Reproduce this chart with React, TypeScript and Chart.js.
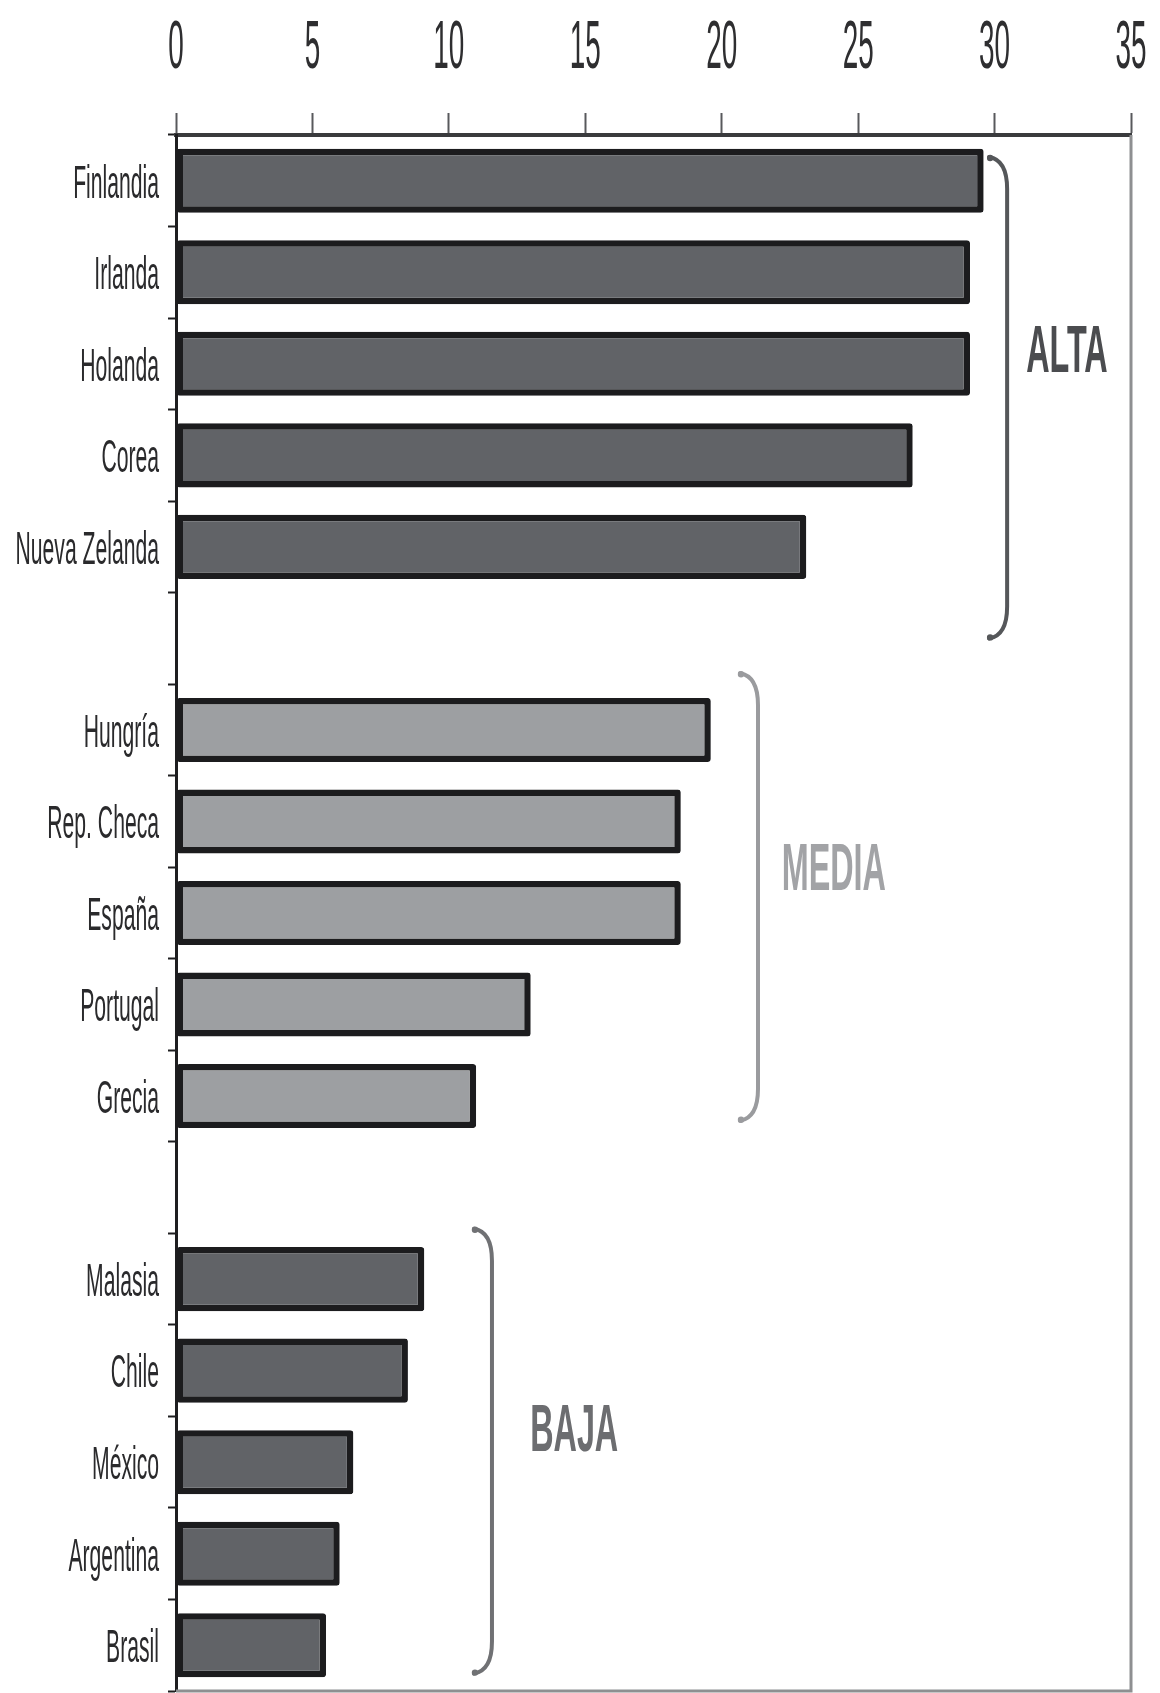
import React, { useEffect, useRef } from "react";
import { Chart, registerables } from "chart.js";

Chart.register(...registerables);

// ---------- data ----------
const altaCountries = ["Finlandia", "Irlanda", "Holanda", "Corea", "Nueva Zelanda"];
const altaValues = [29.6, 29.1, 29.1, 27.0, 23.1];
const mediaCountries = ["Hungría", "Rep. Checa", "España", "Portugal", "Grecia"];
const mediaValues = [19.6, 18.5, 18.5, 13.0, 11.0];
const bajaCountries = ["Malasia", "Chile", "México", "Argentina", "Brasil"];
const bajaValues = [9.1, 8.5, 6.5, 6.0, 5.5];
const xTickValues = [0, 5, 10, 15, 20, 25, 30, 35];
const groupNames = ["ALTA", "MEDIA", "BAJA"];

// ---------- styles ----------
const DARK_FILL = "#616367";
const LIGHT_FILL = "#9d9fa2";
const BAR_BORDER = "#1c1c1e";
const FONT = '"Liberation Sans", Arial, sans-serif';

// bracket/label placement in scale units (x value, category index)
const groupStyles = [
  { textColor: "#4b4c4f", bracketColor: "#55575a", bracketX: 30.46, from: -0.26, to: 5.0, textX: 31.16, textY: 1.83 },
  { textColor: "#a2a3a6", bracketColor: "#9a9b9e", bracketX: 21.33, from: 5.38, to: 10.27, textX: 22.2, textY: 7.49 },
  { textColor: "#6c6d70", bracketColor: "#707174", bracketX: 11.58, from: 11.45, to: 16.31, textX: 12.98, textY: 13.62 },
];

// combined categories with spacer rows between groups
const categories: string[] = [...altaCountries, "", ...mediaCountries, "", ...bajaCountries];
const values: (number | null)[] = [...altaValues, null, ...mediaValues, null, ...bajaValues];
const fills: string[] = [
  ...altaValues.map(() => DARK_FILL),
  DARK_FILL,
  ...mediaValues.map(() => LIGHT_FILL),
  DARK_FILL,
  ...bajaValues.map(() => DARK_FILL),
];

function condensedText(ctx: CanvasRenderingContext2D, text: string, x: number, y: number, sx: number, align: CanvasTextAlign) {
  ctx.save();
  ctx.translate(x, y);
  ctx.scale(sx, 1);
  ctx.textAlign = align;
  ctx.textBaseline = "alphabetic";
  ctx.fillText(text, 0, 0);
  ctx.restore();
}

const overlayPlugin = {
  id: "overlay",
  afterDraw(chart: any) {
    const ctx: CanvasRenderingContext2D = chart.ctx;
    const xs = chart.scales.x;
    const ys = chart.scales.y;
    const ca = chart.chartArea;
    ctx.save();

    // right and bottom frame
    ctx.strokeStyle = "#8e8f91";
    ctx.lineWidth = 3;
    ctx.beginPath();
    ctx.moveTo(ca.right, ca.top);
    ctx.lineTo(ca.right, ca.bottom);
    ctx.lineTo(ca.left, ca.bottom);
    ctx.stroke();

    // x tick labels (top)
    const xSize = 68;
    ctx.fillStyle = "#2e2e30";
    ctx.font = `${xSize}px ${FONT}`;
    xTickValues.forEach((v) => {
      const px = xs.getPixelForValue(v);
      condensedText(ctx, String(v), px, 44 + (0.716 * xSize) / 2, 0.41, "center");
    });

    // y category labels
    const ySize = 47;
    ctx.font = `${ySize}px ${FONT}`;
    ctx.fillStyle = "#2a2a2c";
    categories.forEach((lab, i) => {
      if (!lab) return;
      const py = ys.getPixelForValue(i);
      condensedText(ctx, lab, ca.left - 17, py + (0.716 * ySize) / 2, 0.45, "right");
    });

    // group brackets and names
    const gSize = 66;
    groupStyles.forEach((g, gi) => {
      const bx = xs.getPixelForValue(g.bracketX);
      const yt = ys.getPixelForValue(g.from);
      const yb = ys.getPixelForValue(g.to);
      const hook = 18;
      const curl = 32;
      ctx.strokeStyle = g.bracketColor;
      ctx.lineWidth = 4;
      ctx.lineCap = "round";
      ctx.beginPath();
      ctx.moveTo(bx - hook, yt);
      ctx.quadraticCurveTo(bx, yt + 3, bx, yt + curl);
      ctx.lineTo(bx, yb - curl);
      ctx.quadraticCurveTo(bx, yb - 3, bx - hook, yb);
      ctx.stroke();
      ctx.fillStyle = g.bracketColor;
      ctx.beginPath();
      ctx.arc(bx - hook + 1, yt + 1, 3.2, 0, Math.PI * 2);
      ctx.arc(bx - hook + 1, yb - 1, 3.2, 0, Math.PI * 2);
      ctx.fill();

      ctx.font = `bold ${gSize}px ${FONT}`;
      ctx.fillStyle = g.textColor;
      const tx = xs.getPixelForValue(g.textX);
      const ty = ys.getPixelForValue(g.textY);
      condensedText(ctx, groupNames[gi], tx, ty + (0.716 * gSize) / 2, 0.49, "left");
    });

    ctx.restore();
  },
};

export default function App() {
  const canvasRef = useRef<HTMLCanvasElement | null>(null);

  useEffect(() => {
    document.body.style.margin = "0";
    const canvas = canvasRef.current;
    if (!canvas) return;
    const chart = new Chart(canvas, {
      type: "bar",
      data: {
        labels: categories,
        datasets: [
          {
            data: values,
            backgroundColor: fills,
            borderColor: BAR_BORDER,
            borderWidth: 6.5,
            borderSkipped: false,
            borderRadius: 3,
            barPercentage: 0.7,
            categoryPercentage: 1,
          },
        ],
      },
      options: {
        indexAxis: "y",
        responsive: false,
        animation: false,
        devicePixelRatio: 1,
        events: [],
        layout: { padding: { left: 0, top: 0, right: 29, bottom: 2 } },
        plugins: { legend: { display: false }, tooltip: { enabled: false } },
        scales: {
          x: {
            position: "top",
            min: 0,
            max: 35,
            ticks: { display: false, stepSize: 5 },
            grid: {
              drawOnChartArea: false,
              drawTicks: true,
              tickLength: 22,
              tickColor: "#58595c",
              tickWidth: 2,
              color: "#58595c",
            },
            border: { display: true, color: "#3a3b3d", width: 4 },
            afterFit: (s: any) => {
              s.height = 135;
            },
          },
          y: {
            type: "category",
            offset: true,
            ticks: { display: false },
            grid: {
              offset: true,
              drawOnChartArea: false,
              drawTicks: true,
              tickLength: 8,
              tickColor: "#1e1e20",
              tickWidth: 2,
              color: "#1e1e20",
            },
            border: { display: true, color: "#1e1e20", width: 3 },
            afterFit: (s: any) => {
              s.width = 176;
            },
          },
        },
      },
      plugins: [overlayPlugin],
    } as any);
    return () => chart.destroy();
  }, []);

  return (
    <div style={{ position: "absolute", left: 0, top: 0, width: 1160, height: 1693, background: "#ffffff" }}>
      <canvas ref={canvasRef} width={1160} height={1693} style={{ display: "block", width: 1160, height: 1693 }} />
    </div>
  );
}
